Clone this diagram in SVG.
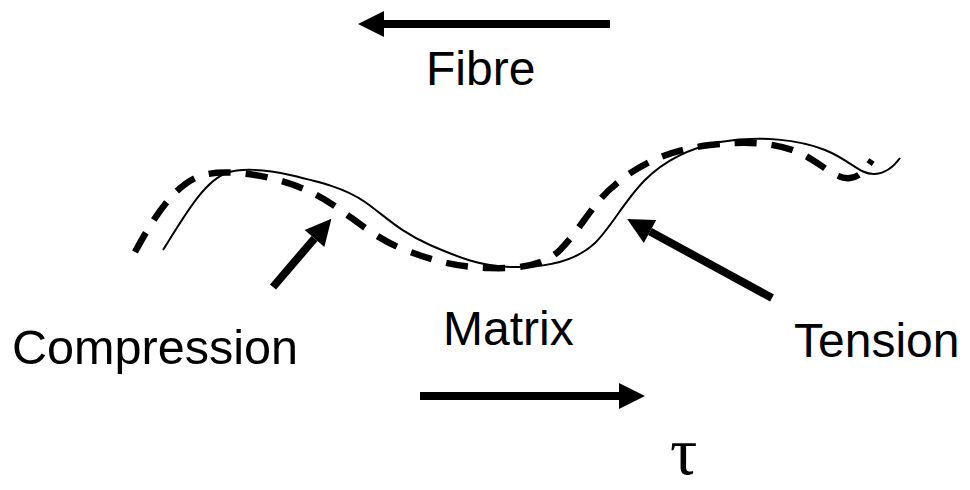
<svg xmlns="http://www.w3.org/2000/svg" width="970" height="490" viewBox="0 0 970 490">
<style>
.lbl{font-family:"Liberation Sans",Arial,sans-serif;font-size:48px;fill:#000}
.tau{font-family:"Liberation Serif","Times New Roman",serif;font-size:68px;fill:#000}
.arr{stroke:#000;stroke-width:8;fill:none;marker-end:url(#head)}
.solid{stroke:#000;stroke-width:2;fill:none}
.dash{stroke:#000;stroke-width:6.5;fill:none;stroke-dasharray:22 15}
</style>
<defs>
<marker id="head" markerUnits="userSpaceOnUse" viewBox="0 -13 26 26" refX="0" refY="0" markerWidth="26" markerHeight="26" orient="auto" overflow="visible">
<path d="M0,-13 L26,0 L0,13 z" fill="#000"/>
</marker>
</defs>
<g id="fibre-curves">
<path id="matrix-curve" class="solid" d="M163,250 C185,215 205,180 227,173 C240,168 265,169 290,175 C320,182 345,188 365,202 C385,216 400,232 430,245 C460,258 480,266 510,267 C545,268 575,262 595,243 C612,226 625,200 645,180 C665,160 690,148 720,142 C760,135 800,140 825,150 C850,160 860,175 875,174 C888,173 895,165 900,158"/>
<path id="fibre-curve" class="dash" d="M135,252 C155,215 175,185 200,176 C215,171 235,172 255,175 C285,180 310,190 330,203 C350,215 370,235 400,248 C430,260 455,267 490,268 C520,269 545,265 560,250 C580,230 595,200 615,185 C640,163 670,150 710,145 C745,141 775,142 800,153 C820,162 835,180 850,178 C860,177 865,170 872,160"/>
</g>
<g id="connectors">
<line class="arr" x1="610" y1="24" x2="384" y2="24"/>
<line class="arr" x1="420" y1="396" x2="619" y2="396"/>
<line class="arr" x1="273" y1="287" x2="314.5" y2="238.5"/>
<line class="arr" x1="772" y1="298" x2="650" y2="231.5"/>
</g>
<g id="fibre"><text class="lbl" x="426" y="85">Fibre</text></g>
<g id="compression"><text class="lbl" x="12" y="364" textLength="286" lengthAdjust="spacingAndGlyphs">Compression</text></g>
<g id="matrix"><text class="lbl" x="443" y="345">Matrix</text></g>
<g id="tension"><text class="lbl" x="794" y="357">Tension</text></g>
<g id="tau"><text class="tau" x="670" y="474">τ</text></g>
</svg>
